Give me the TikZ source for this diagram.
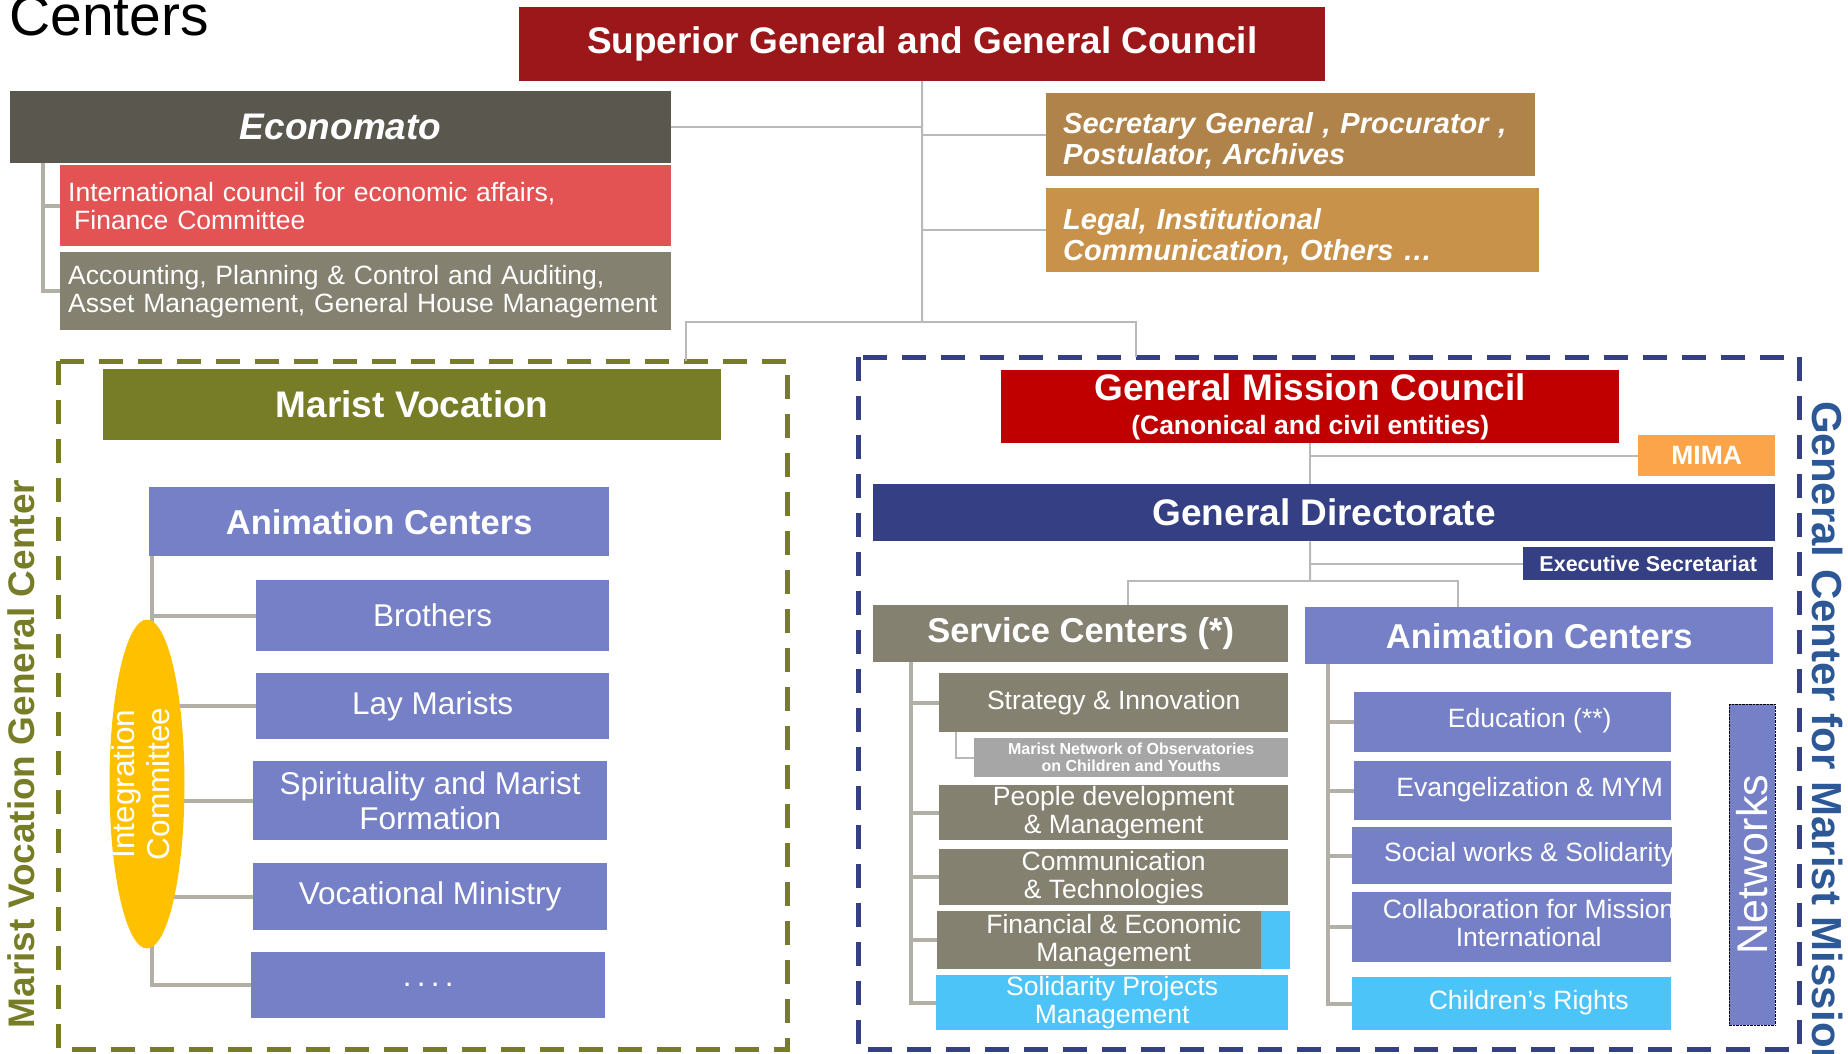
\documentclass[tikz,border=0pt]{standalone}
\usepackage{fontspec}
\setmainfont{Liberation Sans}
\usetikzlibrary{shapes.geometric}

\definecolor{supred}{RGB}{155,23,25}
\definecolor{econgrey}{RGB}{90,87,79}
\definecolor{councilred}{RGB}{227,83,83}
\definecolor{stonegrey}{RGB}{133,129,113}
\definecolor{secbrown}{RGB}{176,131,74}
\definecolor{legalbrown}{RGB}{200,146,74}
\definecolor{mvolive}{RGB}{118,125,38}
\definecolor{animblue}{RGB}{117,128,198}
\definecolor{intyellow}{RGB}{255,192,0}
\definecolor{gmcred}{RGB}{192,0,0}
\definecolor{mimaorange}{RGB}{251,164,74}
\definecolor{dirnavy}{RGB}{53,63,132}
\definecolor{obsgrey}{RGB}{166,166,166}
\definecolor{skycyan}{RGB}{77,196,248}
\definecolor{missionblue}{RGB}{45,88,150}
\definecolor{linegrey}{RGB}{185,185,185}
\definecolor{branchgrey}{RGB}{178,175,166}

% text of the animation boxes sits a little right of centre
\newcommand{\offtext}[1]{\hspace*{34pt}\makebox[0pt]{\begin{tabular}{@{}c@{}}#1\end{tabular}}}

\begin{document}
\begin{tikzpicture}[x=1pt,y=-1pt]
    \tikzset{box/.style = {shape=rectangle, anchor=north west, inner sep=0pt, text=white, align=center}}
    \tikzset{lbox/.style = {box, align=left}}
    \tikzset{headtxt/.style = {font=\fontsize{37}{40}\selectfont\bfseries}}
    \tikzset{subtxt/.style = {font=\fontsize{34.5}{38}\selectfont\bfseries}}
    \tikzset{itemtxt/.style = {font=\fontsize{31.5}{35}\selectfont}}
    \tikzset{smalltxt/.style = {font=\fontsize{26.5}{28}\selectfont}}
    \tikzset{link/.style = {draw=linegrey, line width=2pt}}
    \tikzset{branch/.style = {draw=branchgrey, line width=4pt}}
    \tikzset{frame/.style = {line width=5pt, dash pattern=on 24pt off 15pt}}

    \useasboundingbox (0,0) rectangle (1848,1053);

    % title
    \node[anchor=base west, inner sep=0pt, font=\fontsize{57}{60}\selectfont] (title) at (9,35) {Centers};

    % general government
    \node[box, fill=supred, minimum width=806pt, minimum height=74pt, headtxt] (sup) at (519,7) {Superior General and General Council};
    \node[box, fill=econgrey, minimum width=661pt, minimum height=72pt, font=\fontsize{37}{40}\selectfont\bfseries\itshape] (econ) at (10,91) {Economato};
    \node[lbox, fill=councilred, minimum width=611pt, minimum height=81pt, text width=595pt, inner xsep=8pt, smalltxt] (icea) at (60,165) {International council for economic affairs,\\\hspace*{6pt}Finance Committee};
    \node[lbox, fill=stonegrey, minimum width=611pt, minimum height=78pt, text width=595pt, inner xsep=8pt, smalltxt] (acct) at (60,252) {Accounting, Planning \& Control and Auditing,\\Asset Management, General House Management};
    \node[lbox, fill=secbrown, minimum width=489pt, minimum height=83pt, text width=455pt, inner xsep=17pt, text height=34pt, font=\fontsize{29}{31}\selectfont\bfseries\itshape] (sec) at (1046,93) {Secretary General , Procurator ,\\Postulator, Archives};
    \node[lbox, fill=legalbrown, minimum width=493pt, minimum height=84pt, text width=459pt, inner xsep=17pt, text height=34pt, font=\fontsize{29}{31}\selectfont\bfseries\itshape] (legal) at (1046,188) {Legal, Institutional\\Communication, Others …};

    % frames
    \draw[frame, draw=mvolive] (58,361) rectangle (787,1049);
    \draw[frame, draw=dirnavy] (858,357) rectangle (1799,1049);
    \node[rotate=90, inner sep=0pt, text=mvolive, headtxt] (mvlabel) at (21,754) {Marist Vocation General Center};
    \node[rotate=-90, anchor=west, inner sep=0pt, text=missionblue, font=\fontsize{42}{46}\selectfont\bfseries] (gmlabel) at (1827,401) {General Center for Marist Mission};

    % marist vocation
    \node[box, fill=mvolive, minimum width=618pt, minimum height=71pt, headtxt] (mv) at (103,369) {Marist Vocation};
    \node[box, fill=animblue, minimum width=460pt, minimum height=69pt, subtxt] (animl) at (149,487) {Animation Centers};
    \node[box, fill=animblue, minimum width=353pt, minimum height=71pt, itemtxt] (bro) at (256,580) {Brothers};
    \node[box, fill=animblue, minimum width=353pt, minimum height=66pt, itemtxt] (lay) at (256,673) {Lay Marists};
    \node[box, fill=animblue, minimum width=354pt, minimum height=79pt, itemtxt] (spirit) at (253,761) {Spirituality and Marist\\Formation};
    \node[box, fill=animblue, minimum width=354pt, minimum height=67pt, itemtxt] (vocm) at (253,863) {Vocational Ministry};
    \node[box, fill=animblue, minimum width=354pt, minimum height=66pt, itemtxt] (more) at (251,952) {.\,.\,.\,.};

    % mission
    \node[box, fill=gmcred, minimum width=618pt, minimum height=73pt, headtxt] (gmc) at (1001,370) {General Mission Council\\[-6pt]{\fontsize{26.5}{30}\selectfont(Canonical and civil entities)}};
    \node[box, fill=mimaorange, minimum width=137pt, minimum height=41pt, font=\fontsize{26.5}{28}\selectfont\bfseries] (mima) at (1638,435) {MIMA};
    \node[box, fill=dirnavy, minimum width=902pt, minimum height=57pt, headtxt] (gd) at (873,484) {General Directorate};
    \node[box, fill=dirnavy, minimum width=250pt, minimum height=33pt, font=\fontsize{21.5}{24}\selectfont\bfseries] (exsec) at (1523,547) {Executive Secretariat};
    \node[box, fill=stonegrey, minimum width=415pt, minimum height=57pt, subtxt] (svc) at (873,605) {Service Centers (*)};
    \node[box, fill=animblue, minimum width=468pt, minimum height=57pt, subtxt] (animr) at (1305,607) {Animation Centers};

    % service centers
    \node[box, fill=stonegrey, minimum width=349pt, minimum height=59pt, smalltxt] (strat) at (939,673) {Strategy \& Innovation};
    \node[box, fill=obsgrey, minimum width=314pt, minimum height=39pt, font=\fontsize{16}{17}\selectfont\bfseries] (obs) at (974,738) {Marist Network of Observatories\\on Children and Youths};
    \node[box, fill=stonegrey, minimum width=349pt, minimum height=55pt, smalltxt] (people) at (939,785) {People development\\\& Management};
    \node[box, fill=stonegrey, minimum width=349pt, minimum height=56pt, smalltxt] (comm) at (939,849) {Communication\\\& Technologies};
    \node[box, fill=stonegrey, minimum width=353pt, minimum height=58pt, smalltxt] (finm) at (937,911) {Financial \& Economic\\Management};
    \fill[skycyan] (1261,911) rectangle (1290,969);
    \node[box, fill=skycyan, minimum width=352pt, minimum height=55pt, smalltxt] (sol) at (936,975) {Solidarity Projects\\Management};

    % animation centers
    \node[box, fill=animblue, minimum width=317pt, minimum height=60pt, smalltxt] (edu) at (1354,692) {\offtext{Education (**)}};
    \node[box, fill=animblue, minimum width=317pt, minimum height=59pt, smalltxt] (evan) at (1354,761) {\offtext{Evangelization \& MYM}};
    \node[box, fill=animblue, minimum width=320pt, minimum height=57pt, smalltxt] (soc) at (1352,827) {\offtext{Social works \& Solidarity}};
    \node[box, fill=animblue, minimum width=319pt, minimum height=70pt, smalltxt] (collab) at (1352,892) {\offtext{Collaboration for Mission\\International}};
    \node[box, fill=skycyan, minimum width=319pt, minimum height=53pt, smalltxt] (rights) at (1352,977) {\offtext{Children's Rights}};
    \node[rotate=90, fill=animblue, draw=black, densely dotted, inner sep=0pt, minimum width=321pt, minimum height=46pt, text=white, font=\fontsize{43}{46}\selectfont] (net) at (1752,864.5) {Networks};

    % links
    \coordinate (split) at (922,322);
    \coordinate (mvtop) at (686,361);
    \coordinate (gmtop) at (1136,357);
    \coordinate (gdsplit) at (1310,581);
    \draw[link] (econ.east) -| (sup.south);
    \draw[link] (sup.south) |- (sec.west);
    \draw[link] (sup.south) |- (legal.west);
    \draw[link] (sup.south) -- (split);
    \draw[link] (mvtop) |- (split) -| (gmtop);
    \draw[link] (gmc.south) -- (gmc.south |- gd.north);
    \draw[link] (gmc.south |- mima.west) -- (mima.west);
    \draw[link] (gmc.south |- gd.south) -- (gdsplit);
    \draw[link] (gmc.south |- exsec.west) -- (exsec.west);
    \draw[link] ([xshift=47pt]svc.north) |- (gdsplit) -| ([xshift=-81pt]animr.north);
    \draw[link] ([xshift=17pt]strat.south west) |- (obs.west);

    % branches
    \draw[branch] ([xshift=33pt]econ.south west) |- (icea.west);
    \draw[branch] ([xshift=33pt]econ.south west) |- (acct.west);
    \foreach \kid in {bro,lay,spirit,vocm,more}
        \draw[branch] ([xshift=3pt]animl.south west) |- (\kid.west);
    \foreach \kid in {strat,people,comm,finm,sol}
        \draw[branch] ([xshift=38pt]svc.south west) |- (\kid.west);
    \foreach \kid in {edu,evan,soc,collab,rights}
        \draw[branch] ([xshift=23pt]animr.south west) |- (\kid.west);

    % integration committee
    \node[ellipse, fill=intyellow, inner sep=0pt, minimum width=75pt, minimum height=329pt] (integ) at (147,784) {};
    \node[rotate=90, inner sep=0pt, align=center, text=white, itemtxt] (integtxt) at ([xshift=-6pt]integ.center) {Integration\\Committee};
\end{tikzpicture}
\end{document}
